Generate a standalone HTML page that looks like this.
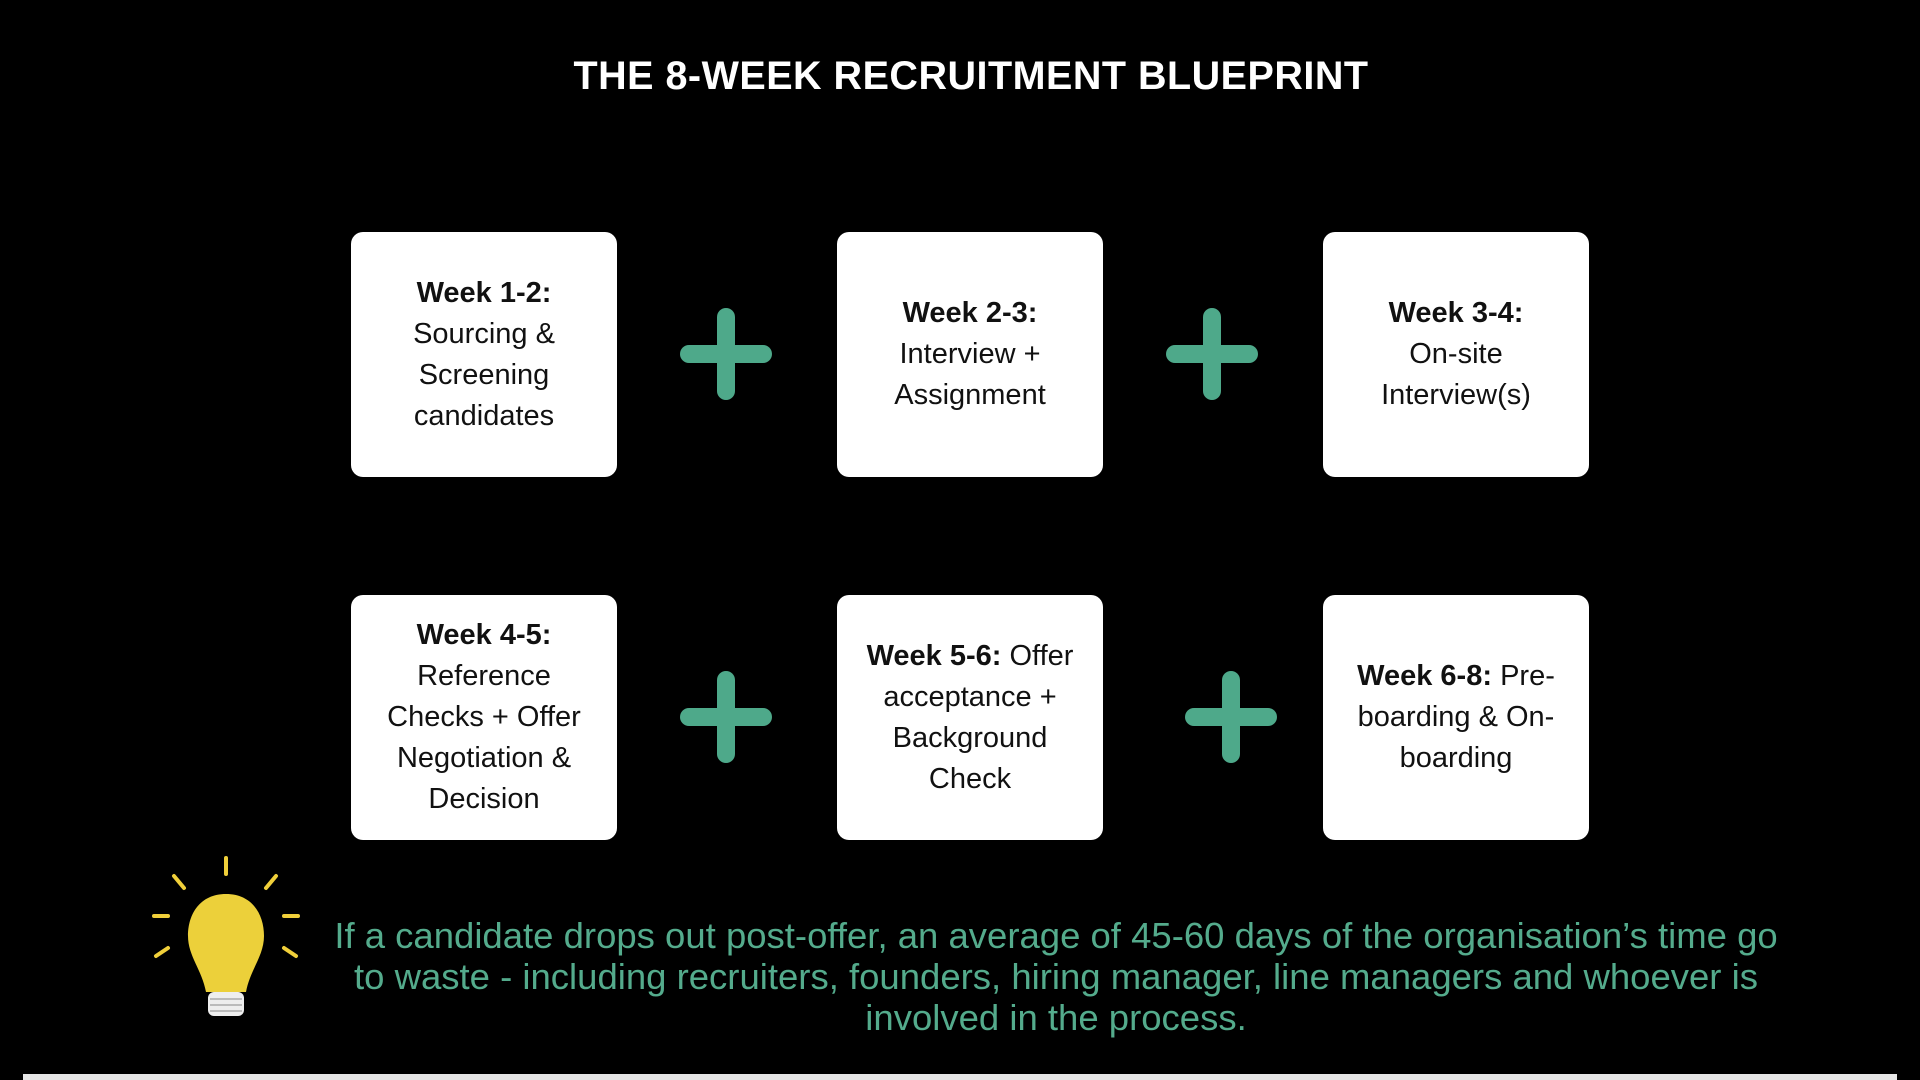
<!DOCTYPE html>
<html><head><meta charset="utf-8"><style>
body{margin:0;width:1920px;height:1080px;background:#000;position:relative;overflow:hidden;font-family:"Liberation Sans",sans-serif}
.t{position:absolute;top:54px;left:0;width:1942px;text-align:center;color:#fff;font-weight:bold;font-size:39.5px;letter-spacing:0.5px}
.b{position:absolute;width:266px;height:245px;background:#fff;border-radius:12px;display:flex;align-items:center;justify-content:center;text-align:center;color:#111;font-size:29px;line-height:41px}
.b div{width:240px}
.p{position:absolute;width:92px;height:92px}
.p:before,.p:after{content:"";position:absolute;background:#4ea98a;border-radius:9px}
.p:before{left:37px;top:0;width:18px;height:92px}
.p:after{top:37px;left:0;height:18px;width:92px}
.n{position:absolute;left:200px;width:1712px;top:915px;text-align:center;color:#54ab8c;font-size:36.5px;line-height:41px}
.bar{position:absolute;left:23px;width:1874px;top:1074px;height:6px;background:#e6e6e6}
</style></head><body>
<div class="t">THE 8-WEEK RECRUITMENT BLUEPRINT</div>
<div class="b" style="left:351px;top:232px"><div><b>Week 1-2:</b><br>Sourcing &amp;<br>Screening<br>candidates</div></div>
<div class="b" style="left:837px;top:232px"><div><b>Week 2-3:</b><br>Interview +<br>Assignment</div></div>
<div class="b" style="left:1323px;top:232px"><div><b>Week 3-4:</b><br>On-site<br>Interview(s)</div></div>
<div class="b" style="left:351px;top:595px"><div><b>Week 4-5:</b><br>Reference<br>Checks + Offer<br>Negotiation &amp;<br>Decision</div></div>
<div class="b" style="left:837px;top:595px"><div><b>Week 5-6:</b> Offer<br>acceptance +<br>Background<br>Check</div></div>
<div class="b" style="left:1323px;top:595px"><div><b>Week 6-8:</b> Pre-<br>boarding &amp; On-<br>boarding</div></div>
<div class="p" style="left:680px;top:308px"></div>
<div class="p" style="left:1166px;top:308px"></div>
<div class="p" style="left:680px;top:671px"></div>
<div class="p" style="left:1185px;top:671px"></div>
<svg style="position:absolute;left:140px;top:850px" width="170" height="170" viewBox="0 0 170 170">
<g stroke="#f0cf3a" stroke-width="4" stroke-linecap="round">
<line x1="86" y1="8" x2="86" y2="24"/><line x1="34" y1="26" x2="44" y2="38"/><line x1="136" y1="26" x2="126" y2="38"/>
<line x1="14" y1="66" x2="28" y2="66"/><line x1="144" y1="66" x2="158" y2="66"/>
<line x1="16" y1="106" x2="28" y2="98"/><line x1="156" y1="106" x2="144" y2="98"/></g>
<path d="M86 44 C60 44 48 64 48 86 C48 106 62 120 66 142 L106 142 C110 120 124 106 124 86 C124 64 112 44 86 44Z" fill="#ecd03a"/>
<rect x="68" y="142" width="36" height="24" rx="6" fill="#eee"/>
<g stroke="#bbb" stroke-width="2"><line x1="70" y1="149" x2="102" y2="149"/><line x1="70" y1="155" x2="102" y2="155"/><line x1="70" y1="161" x2="102" y2="161"/></g>
</svg>
<div class="n">If a candidate drops out post-offer, an average of 45-60 days of the organisation’s time go<br>to waste - including recruiters, founders, hiring manager, line managers and whoever is<br>involved in the process.</div>
<div class="bar"></div>
</body></html>
